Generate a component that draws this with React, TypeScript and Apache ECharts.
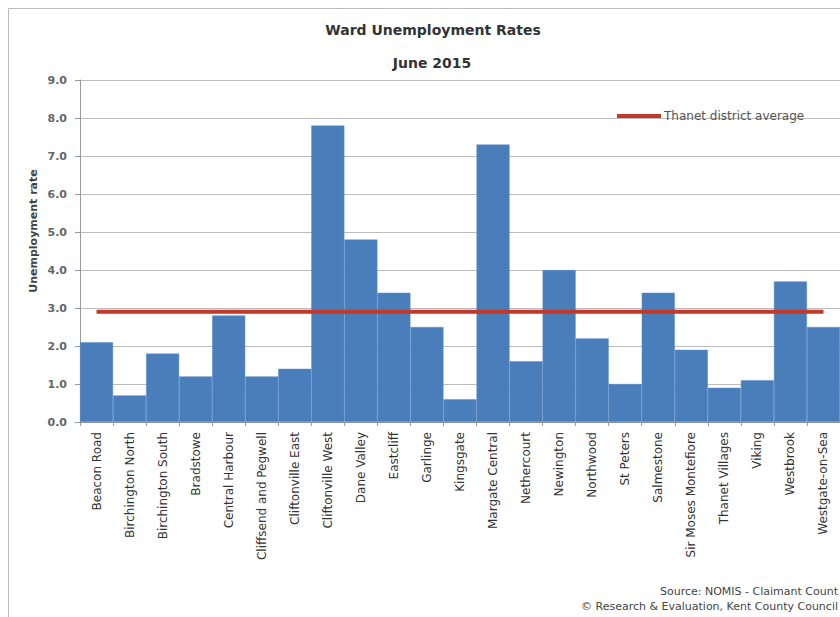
import React, { useEffect, useRef } from "react";
import * as echarts from "echarts";

const wards = [
  "Beacon Road", "Birchington North", "Birchington South", "Bradstowe", "Central Harbour",
  "Cliffsend and Pegwell", "Cliftonville East", "Cliftonville West", "Dane Valley", "Eastcliff",
  "Garlinge", "Kingsgate", "Margate Central", "Nethercourt", "Newington", "Northwood",
  "St Peters", "Salmestone", "Sir Moses Montefiore", "Thanet Villages", "Viking",
  "Westbrook", "Westgate-on-Sea",
];
const rates = [2.1, 0.7, 1.8, 1.2, 2.8, 1.2, 1.4, 7.8, 4.8, 3.4, 2.5, 0.6, 7.3, 1.6, 4.0, 2.2, 1.0, 3.4, 1.9, 0.9, 1.1, 3.7, 2.5];
const districtAverage = 2.9;
const averageSeries = wards.map(() => districtAverage);

const FONT = "DejaVu Sans";

export default function App() {
  const ref = useRef<HTMLDivElement>(null);
  useEffect(() => {
    const chart = echarts.init(ref.current!, null, { renderer: "svg" });
    chart.setOption({
      animation: false,
      backgroundColor: "#fff",
      textStyle: { fontFamily: FONT },
      title: [
        { text: "Ward Unemployment Rates", left: 428, top: 18, textAlign: "center",
          textStyle: { fontSize: 14, fontWeight: "bold", color: "#333", fontFamily: FONT } },
        { text: "June 2015", left: 427, top: 51, textAlign: "center",
          textStyle: { fontSize: 14, fontWeight: "bold", color: "#333", fontFamily: FONT } },
      ],
      legend: {
        data: [{ name: "Thanet district average" }],
        left: 612, top: 105, itemWidth: 44, itemHeight: 4, itemGap: 2,
        icon: "rect",
        textStyle: { fontSize: 12, color: "#555", fontFamily: FONT, padding: [0, 0, 0, -2] },
      },
      grid: { left: 80, right: -9, top: 80, bottom: 195, containLabel: false },
      xAxis: {
        type: "category",
        data: wards,
        axisLine: { lineStyle: { color: "#999" } },
        axisTick: { show: true, length: 4, lineStyle: { color: "#999" } },
        axisLabel: { rotate: 90, interval: 0, fontSize: 12, color: "#333", margin: 10, fontFamily: FONT },
      },
      yAxis: {
        type: "value",
        min: 0, max: 9, interval: 1,
        axisLine: { show: true, lineStyle: { color: "#999" } },
        axisTick: { show: true, length: 5, lineStyle: { color: "#999" } },
        axisLabel: { formatter: (v: number) => v.toFixed(1), fontSize: 11, fontWeight: "bold", color: "#666", margin: 13, fontFamily: FONT },
        splitLine: { lineStyle: { color: "#bbb" } },
      },
      series: [
        {
          type: "bar",
          data: rates,
          barCategoryGap: "0%",
          itemStyle: { color: "#4A7EBB", borderColor: "#5b8ccb", borderWidth: 0.5 },
          z: 2,
        },
        {
          name: "Thanet district average",
          type: "line",
          data: averageSeries,
          symbol: "none",
          lineStyle: { color: "#C0392B", width: 4 },
          itemStyle: { color: "#C0392B" },
          z: 3,
        },
      ],
      graphic: [
        { type: "line", shape: { x1: 8.5, y1: 8.5, x2: 840, y2: 8.5 }, style: { stroke: "#bbb", lineWidth: 1 } },
        { type: "line", shape: { x1: 8.5, y1: 8.5, x2: 8.5, y2: 617 }, style: { stroke: "#bbb", lineWidth: 1 } },
        { type: "text", x: 33, y: 231, rotation: Math.PI / 2,
          style: { text: "Unemployment rate", fontSize: 11, fontWeight: "bold", fill: "#444", fontFamily: FONT, textAlign: "center", textVerticalAlign: "middle" } },
        { type: "text", x: 838, y: 586, style: { text: "Source: NOMIS - Claimant Count", fontSize: 11, fill: "#444", fontFamily: FONT, textAlign: "right" } },
        { type: "text", x: 838, y: 601, style: { text: "© Research & Evaluation, Kent County Council", fontSize: 11, fill: "#444", fontFamily: FONT, textAlign: "right" } },
      ],
    });
    return () => chart.dispose();
  }, []);
  return <div ref={ref} style={{ width: 840, height: 617, position: "absolute", left: 0, top: 0 }} />;
}
